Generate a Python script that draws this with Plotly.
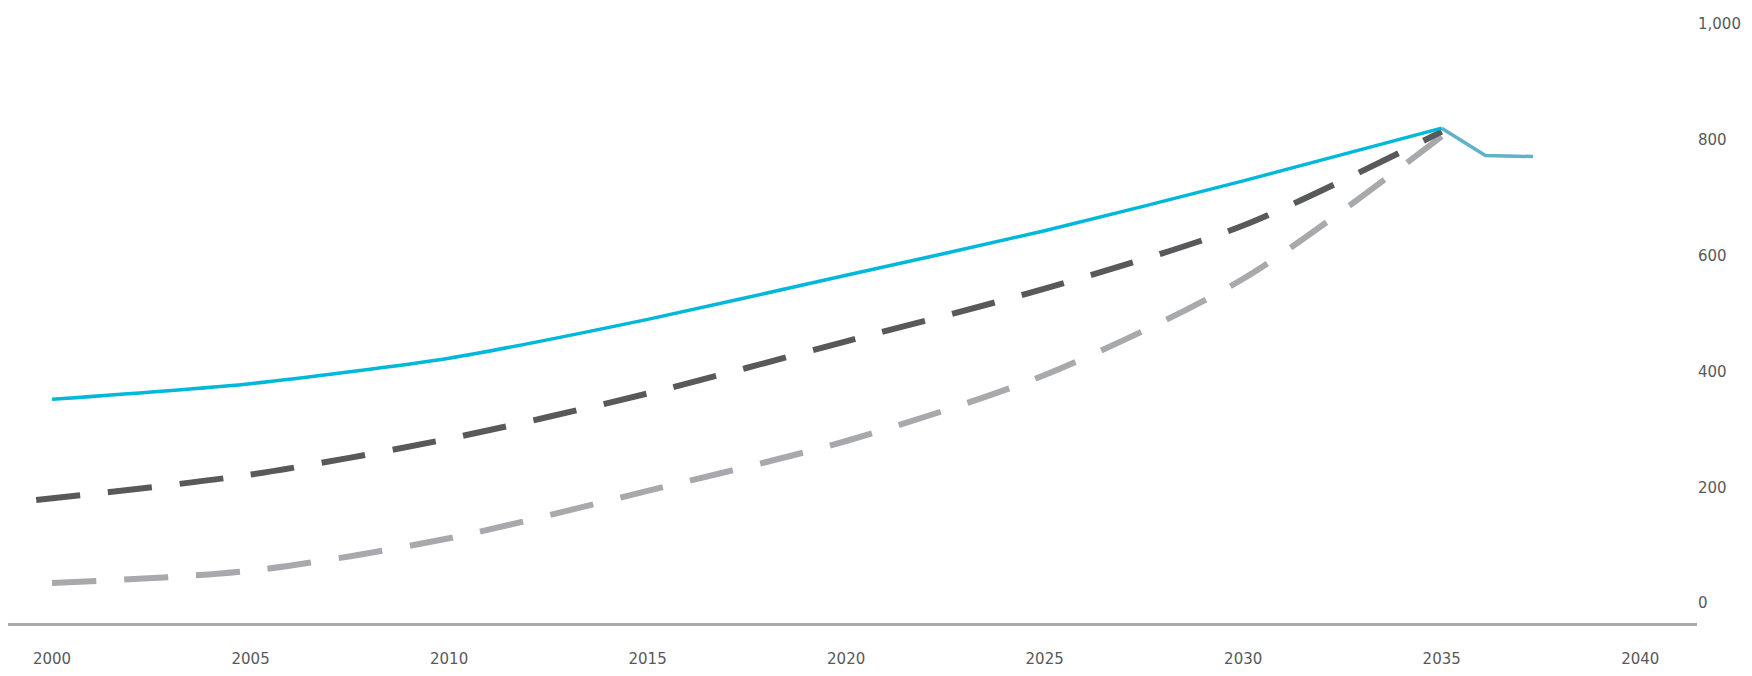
import plotly.graph_objects as go

# Data
years_main = [2000, 2005, 2010, 2015, 2020, 2025, 2030, 2035]
series_solid = [352, 379, 423, 490, 566, 643, 729, 820]

years_tail = [2035, 2036.1, 2037.3]
series_tail = [820, 773, 771]

years_dark = [1999.6, 2005, 2010, 2015, 2020, 2025, 2030, 2035]
series_dark = [178, 222, 284, 362, 452, 543, 652, 814]

years_light = [2000, 2005, 2010, 2015, 2020, 2025, 2030, 2035]
series_light = [35, 56, 112, 194, 280, 394, 560, 806]

x_tick_vals = [2000, 2005, 2010, 2015, 2020, 2025, 2030, 2035, 2040]
x_tick_text = [str(v) for v in x_tick_vals]
y_tick_vals = [0, 200, 400, 600, 800, 1000]
y_tick_text = ["0", "200", "400", "600", "800", "1,000"]

CYAN = "#00b8d9"
DARK = "#58595b"
LIGHT = "#a7a9ac"
TEXT = "#58595b"

fig = go.Figure()
fig.add_trace(go.Scatter(
    x=years_light, y=series_light, mode="lines",
    line=dict(color=LIGHT, width=6, dash="44px,28px", shape="spline", smoothing=0.8),
    showlegend=False, hoverinfo="skip"))
fig.add_trace(go.Scatter(
    x=years_dark, y=series_dark, mode="lines",
    line=dict(color=DARK, width=6, dash="44px,28px", shape="spline", smoothing=0.8),
    showlegend=False, hoverinfo="skip"))
fig.add_trace(go.Scatter(
    x=years_tail, y=series_tail, mode="lines",
    line=dict(color="#5fb3c4", width=3.5, shape="linear"),
    showlegend=False, hoverinfo="skip"))
fig.add_trace(go.Scatter(
    x=years_main, y=series_solid, mode="lines",
    line=dict(color=CYAN, width=3.5, shape="spline", smoothing=0.6),
    showlegend=False, hoverinfo="skip"))

# page body has an 8px margin; the figure is sized to fit inside it
fig.update_layout(
    width=1736, height=660,
    margin=dict(l=0, r=47, t=6, b=39),
    paper_bgcolor="white", plot_bgcolor="white",
    font=dict(family="DejaVu Sans", size=15, color=TEXT),
    xaxis=dict(
        range=[1998.89, 2041.43],
        tickvals=x_tick_vals, ticktext=x_tick_text,
        showgrid=False, zeroline=False,
        showline=True, linecolor=LIGHT, linewidth=3,
        ticks="outside", ticklen=20, tickcolor="rgba(0,0,0,0)",
        tickfont=dict(size=15, color=TEXT),
    ),
    yaxis=dict(
        range=[-34.2, 1017.1],
        side="right",
        tickvals=y_tick_vals, ticktext=y_tick_text,
        showgrid=False, zeroline=False, showline=False,
        ticks="", tickfont=dict(size=15, color=TEXT),
    ),
)

fig.write_html("out.html")
